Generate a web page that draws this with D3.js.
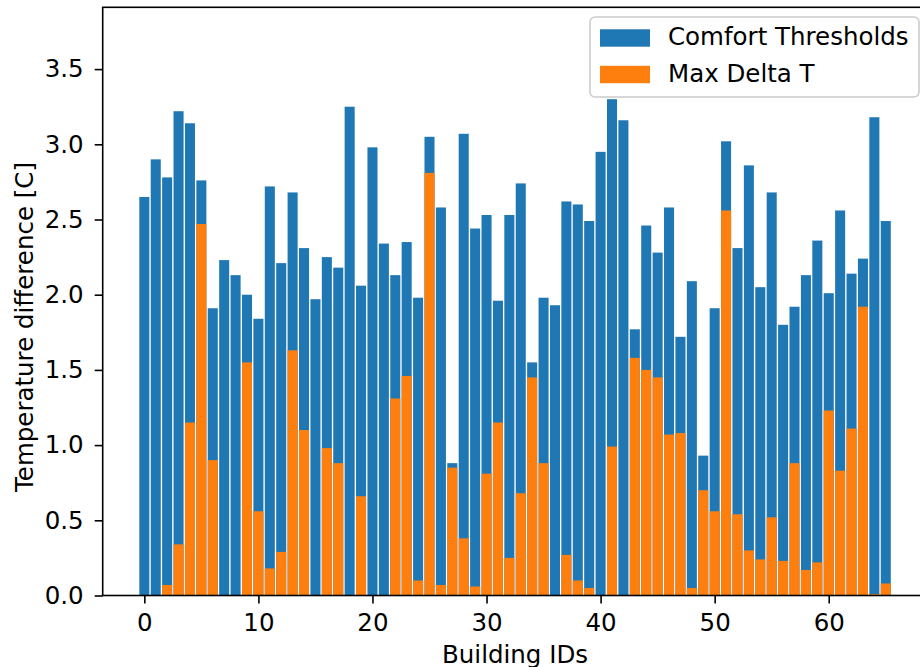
<html>
	<head>
		<meta charset="utf-8">

		<title>Comfort thresholds vs max delta T</title>

		<style>
			html, body { margin: 0; background: white; }

			body {
				font-family: "DejaVu Sans", sans-serif;
				width: 920px;
				height: 667px;
				overflow: hidden;
			}

			.tick text { font-size: 24.5px; fill: black; font-family: "DejaVu Sans", sans-serif; }
			.tick line { stroke: black; stroke-width: 1.6; }
			.domain { display: none; }
			.axisLabel { font-size: 24.5px; fill: black; }
			.legendText { font-size: 24.5px; fill: black; }
		</style>
	</head>

	<body>
		<div id="chart"></div>

		<script src="https://cdn.jsdelivr.net/npm/d3@7"></script>

		<script>
			// values, one per building id 0..65
			var comfort = [2.65, 2.90, 2.78, 3.22, 3.14, 2.76, 1.91, 2.23, 2.13, 2.00,
				1.84, 2.72, 2.21, 2.68, 2.31, 1.97, 2.25, 2.18, 3.25, 2.06,
				2.98, 2.34, 2.13, 2.35, 1.98, 3.05, 2.58, 0.88, 3.07, 2.44,
				2.53, 1.96, 2.53, 2.74, 1.55, 1.98, 1.93, 2.62, 2.60, 2.49,
				2.95, 3.30, 3.16, 1.77, 2.46, 2.28, 2.58, 1.72, 2.09, 0.93,
				1.91, 3.02, 2.31, 2.86, 2.05, 2.68, 1.80, 1.92, 2.13, 2.36,
				2.01, 2.56, 2.14, 2.24, 3.18, 2.49]

			var maxDelta = [0, 0, 0.07, 0.34, 1.15, 2.47, 0.90, 0, 0, 1.55,
				0.56, 0.18, 0.29, 1.63, 1.10, 0, 0.98, 0.88, 0, 0.66,
				0, 0, 1.31, 1.46, 0.10, 2.81, 0.07, 0.85, 0.38, 0.06,
				0.81, 1.15, 0.25, 0.68, 1.45, 0.88, 0, 0.27, 0.10, 0.05,
				0, 0.99, 0, 1.58, 1.50, 1.45, 1.07, 1.08, 0.05, 0.70,
				0.56, 2.56, 0.54, 0.30, 0.24, 0.52, 0.23, 0.88, 0.17, 0.22,
				1.23, 0.83, 1.11, 1.92, 0.01, 0.08]

			var xTicks = [0, 10, 20, 30, 40, 50, 60]
			var yTicks = [0, 0.5, 1.0, 1.5, 2.0, 2.5, 3.0, 3.5]
			var seriesNames = ["Comfort Thresholds", "Max Delta T"]
			var seriesColors = ["#1f77b4", "#ff7f0e"]

			var chart = {
				width: 920, height: 667,
				left: 102.7, right: 927.4, top: 7.3, bottom: 595.5,
				barWidth: 0.88
			}

			var svg = d3.select("#chart").append("svg")
				.attr("width", chart.width)
				.attr("height", chart.height)

			var x = d3.scaleLinear().domain([-3.65, 68.65]).range([chart.left, chart.right])
			var y = d3.scaleLinear().domain([0, 3.911]).range([chart.bottom, chart.top])

			var ids = d3.range(comfort.length)

			svg.append("g").selectAll("rect")
				.data(ids)
				.enter()
				.append("rect")
				.attr("x", function(d) { return x(d - chart.barWidth / 2) })
				.attr("width", function(d) { return x(chart.barWidth) - x(0) })
				.attr("y", function(d) { return y(comfort[d]) })
				.attr("height", function(d) { return y(0) - y(comfort[d]) })
				.attr("fill", seriesColors[0])

			svg.append("g").selectAll("rect")
				.data(ids.filter(function(d) { return maxDelta[d] > 0 }))
				.enter()
				.append("rect")
				.attr("x", function(d) { return x(d - chart.barWidth / 2) })
				.attr("width", function(d) { return x(chart.barWidth) - x(0) })
				.attr("y", function(d) { return y(maxDelta[d]) })
				.attr("height", function(d) { return y(0) - y(maxDelta[d]) })
				.attr("fill", seriesColors[1])

			// axes
			svg.append("g")
				.attr("transform", "translate(0," + chart.bottom + ")")
				.call(d3.axisBottom(x).tickValues(xTicks).tickSize(8).tickPadding(10).tickFormat(d3.format("d")))

			svg.append("g")
				.attr("transform", "translate(" + chart.left + ",0)")
				.call(d3.axisLeft(y).tickValues(yTicks).tickSize(8).tickPadding(11).tickFormat(d3.format(".1f")))

			// spines (right one falls outside the window)
			svg.append("rect")
				.attr("x", chart.left)
				.attr("y", chart.top)
				.attr("width", chart.right - chart.left)
				.attr("height", chart.bottom - chart.top)
				.attr("fill", "none")
				.attr("stroke", "black")
				.attr("stroke-width", 1.6)

			svg.append("text")
				.attr("class", "axisLabel")
				.attr("text-anchor", "middle")
				.attr("x", (chart.left + chart.right) / 2)
				.attr("y", 663)
				.text("Building IDs")

			svg.append("text")
				.attr("class", "axisLabel")
				.attr("text-anchor", "middle")
				.attr("transform", "translate(32.5,327) rotate(-90)")
				.text("Temperature difference [C]")

			// legend
			var legend = svg.append("g")

			legend.append("rect")
				.attr("x", 590)
				.attr("y", 17)
				.attr("width", 329)
				.attr("height", 80)
				.attr("rx", 5)
				.attr("fill", "white")
				.attr("fill-opacity", 0.8)
				.attr("stroke", "#cccccc")
				.attr("stroke-width", 1.6)

			var item = legend.selectAll("g.item")
				.data(seriesNames)
				.enter()
				.append("g")
				.attr("class", "item")
				.attr("transform", function(d, i) { return "translate(0," + (i * 36.5) + ")" })

			item.append("rect")
				.attr("x", 600)
				.attr("y", 29.3)
				.attr("width", 50)
				.attr("height", 17.4)
				.attr("fill", function(d, i) { return seriesColors[i] })

			item.append("text")
				.attr("class", "legendText")
				.attr("x", 668)
				.attr("y", 45)
				.text(function(d) { return d })
		</script>
	</body>
</html>
